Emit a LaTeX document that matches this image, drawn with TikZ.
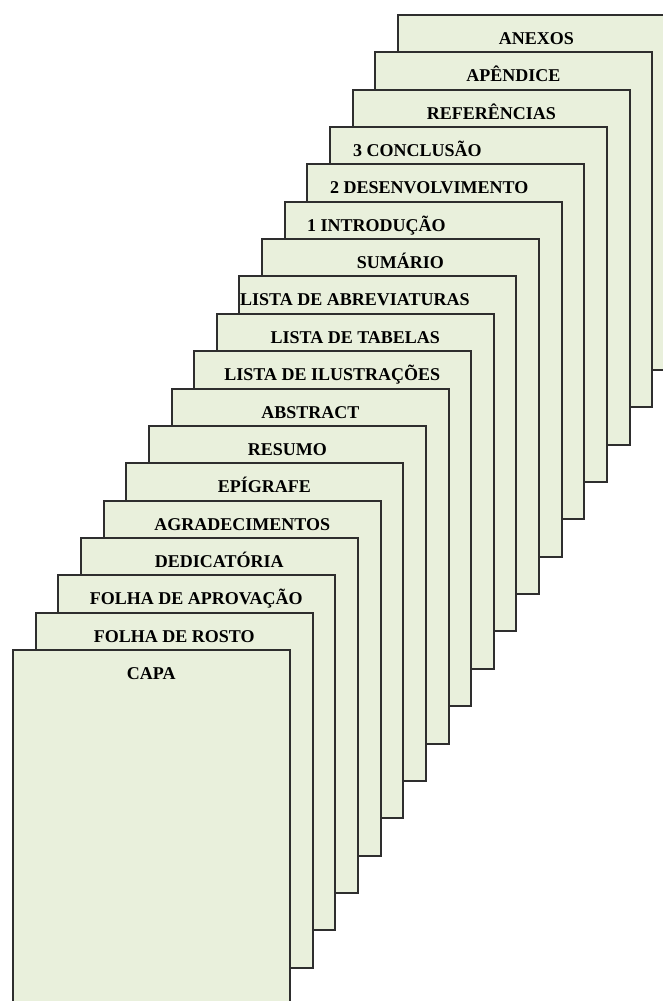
\documentclass[tikz,border=0pt]{standalone}
\usepackage{fontspec}
\setmainfont{Liberation Serif}
\definecolor{folha}{HTML}{E9F0DC}
\tikzset{
  pagina/.style={draw=black!82,line width=1.6pt,fill=folha,minimum width=277pt,minimum height=355pt,anchor=north west,inner sep=0pt},
  titulo/.style={font=\bfseries\fontsize{18}{20}\selectfont,inner sep=0pt,text=black}
}
\begin{document}
\begin{tikzpicture}[x=1pt,y=-1pt]
\useasboundingbox (0,0) rectangle (663,1001);
\clip (0,0) rectangle (663,1001);
\foreach \i/\txt/\canto/\anc/\dx in {
  17/ANEXOS/north/base/0,
  16/APÊNDICE/north/base/0,
  15/REFERÊNCIAS/north/base/0,
  14/3 CONCLUSÃO/north west/base west/24,
  13/2 DESENVOLVIMENTO/north west/base west/24,
  12/1 INTRODUÇÃO/north west/base west/23,
  11/SUMÁRIO/north/base/0,
  10/LISTA DE ABREVIATURAS/north west/base west/2,
  9/LISTA DE TABELAS/north/base/0,
  8/LISTA DE ILUSTRAÇÕES/north/base/0,
  7/ABSTRACT/north/base/0,
  6/RESUMO/north/base/0,
  5/EPÍGRAFE/north/base/0,
  4/AGRADECIMENTOS/north/base/0,
  3/DEDICATÓRIA/north/base/0,
  2/FOLHA DE APROVAÇÃO/north/base/0,
  1/FOLHA DE ROSTO/north/base/0,
  0/CAPA/north/base/0}{
  \node[pagina] (p\i) at ({round(12+22.65*\i)},{round(649-37.35*\i)}) {};
  \node[titulo,anchor=\anc] (t\i) at ([xshift=\dx pt,yshift=-30pt]p\i.\canto) {\txt};
}
\end{tikzpicture}
\end{document}
